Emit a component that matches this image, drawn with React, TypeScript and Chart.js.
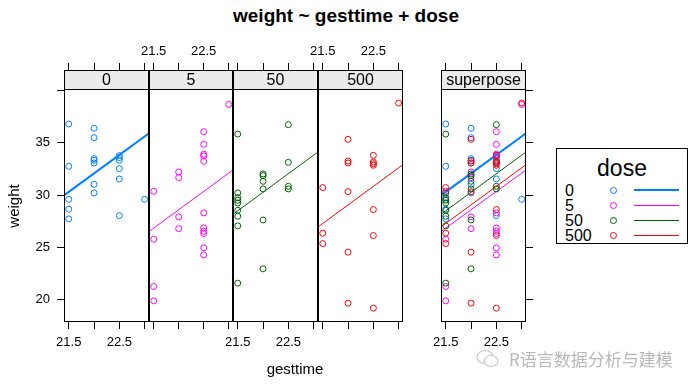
import React, { useEffect, useRef } from 'react';
import { Chart, registerables } from 'chart.js';

Chart.register(...registerables);

// ---------- data ----------
const doseLevels = ['0', '5', '50', '500'];
const doseColors = ['#0080ff', '#ff00ff', '#006400', '#ff0000'];

const gest0 = [21.5, 21.5, 21.5, 21.5, 21.5, 22, 22, 22, 22, 22, 22, 22, 22.5, 22.5, 22.5, 22.5, 22.5, 22.5, 23];
const weight0 = [36.79, 32.75, 29.6, 28.65, 27.73, 36.38, 35.49, 33.48, 33.32, 33.07, 31.03, 30.21, 33.77, 33.58, 33.32, 32.53, 31.54, 28.04, 29.6];

const gest5 = [21.5, 21.5, 21.5, 21.5, 22, 22, 22, 22, 22.5, 22.5, 22.5, 22.5, 22.5, 22.5, 22.5, 22.5, 22.5, 22.5, 22.5, 23];
const weight5 = [30.37, 25.79, 21.27, 19.9, 32.21, 31.67, 27.92, 26.8, 36.06, 34.85, 33.9, 33.74, 33.23, 28.3, 26.87, 26.55, 26.33, 24.96, 24.29, 38.66];

const gest50 = [21.5, 21.5, 21.5, 21.5, 21.5, 21.5, 21.5, 21.5, 21.5, 22, 22, 22, 22, 22, 22, 22.5, 22.5, 22.5, 22.5];
const weight50 = [35.83, 30.21, 29.76, 29.51, 29.25, 28.55, 27.98, 27.06, 21.59, 32.02, 31.86, 31.32, 30.59, 27.63, 22.96, 36.73, 33.13, 30.84, 30.59];

const gest500 = [21.5, 21.5, 21.5, 22, 22, 22, 22, 22, 22, 22.5, 22.5, 22.5, 22.5, 22.5, 22.5, 22.5, 23];
const weight500 = [30.72, 26.36, 25.37, 35.33, 33.26, 33.07, 30.33, 24.55, 19.68, 33.8, 33.16, 33.0, 32.85, 28.62, 26.14, 19.2, 38.79];

const gestByDose = [gest0, gest5, gest50, gest500];
const weightByDose = [weight0, weight5, weight50, weight500];

// fitted (parallel) lines of weight ~ gesttime + dose, at the panel's x limits
const fitAtXMin = [29.98, 26.52, 28.17, 26.96];
const fitAtXMax = [35.9, 32.4, 34.12, 32.91];

const xTicks = [21.5, 22, 22.5, 23];
const xTickLabels = ['21.5', '', '22.5', ''];
const yTicks = [20, 25, 30, 35, 40];
const yTickLabels = ['20', '25', '30', '35', ''];

const X_MIN = 21.406;
const X_MAX = 23.086;
const Y_MIN = 17.88;
const Y_MAX = 41.95;

const stripLabels = ['0', '5', '50', '500', 'superpose'];

// ---------- layout ----------
const FONT = '"Liberation Sans", Arial, Helvetica, sans-serif';
const CANVAS_H = 390;
const AREA_TOP = 70;
const AREA_BOTTOM = 322;
const STRIP_H = 19;
const SIDE = 30;

type PanelCfg = {
  groups: number[];
  strip: string;
  left: number;
  right: number;
  leftAxis: boolean;
  rightAxis: boolean;
  bottomLabels: boolean;
  topLabels: boolean;
};

const panels: PanelCfg[] = [
  { groups: [0], strip: stripLabels[0], left: 64, right: 149, leftAxis: true, rightAxis: false, bottomLabels: true, topLabels: false },
  { groups: [1], strip: stripLabels[1], left: 149, right: 233, leftAxis: false, rightAxis: false, bottomLabels: false, topLabels: true },
  { groups: [2], strip: stripLabels[2], left: 233, right: 318, leftAxis: false, rightAxis: false, bottomLabels: true, topLabels: false },
  { groups: [3], strip: stripLabels[3], left: 318, right: 403, leftAxis: false, rightAxis: false, bottomLabels: false, topLabels: true },
  { groups: [0, 1, 2, 3], strip: stripLabels[4], left: 441, right: 526, leftAxis: false, rightAxis: true, bottomLabels: true, topLabels: false },
];

const panelFrame = {
  id: 'panelFrame',
  afterDraw(chart: any, _args: any, opts: any) {
    const { ctx, chartArea } = chart;
    const { left, right, top, bottom } = chartArea;
    ctx.save();
    ctx.fillStyle = '#ebebeb';
    ctx.fillRect(left, top, right - left, STRIP_H);
    ctx.strokeStyle = '#000';
    ctx.lineWidth = 1;
    ctx.strokeRect(left + 0.5, top + 0.5, right - left - 1, bottom - top - 1);
    ctx.beginPath();
    ctx.moveTo(left, top + STRIP_H + 0.5);
    ctx.lineTo(right, top + STRIP_H + 0.5);
    ctx.stroke();
    ctx.fillStyle = '#000';
    ctx.font = `16px ${FONT}`;
    ctx.textAlign = 'center';
    ctx.textBaseline = 'alphabetic';
    ctx.fillText(opts.label, (left + right) / 2, top + 14.5);
    ctx.restore();
  },
};

function Panel({ cfg }: { cfg: PanelCfg }) {
  const ref = useRef<HTMLCanvasElement>(null);
  const leftSpace = cfg.leftAxis ? cfg.left : SIDE;
  const rightSpace = SIDE;
  const canvasLeft = cfg.left - leftSpace;
  const canvasW = leftSpace + (cfg.right - cfg.left) + rightSpace;
  const showY = cfg.leftAxis || cfg.rightAxis;

  useEffect(() => {
    if (!ref.current) return;
    const datasets: any[] = [];
    // Chart.js draws dataset 0 last (on top); build in reverse drawing order
    const order = [...cfg.groups].reverse();
    for (const g of order) {
      datasets.push({
        type: 'line',
        data: [
          { x: X_MIN, y: fitAtXMin[g] },
          { x: X_MAX, y: fitAtXMax[g] },
        ],
        borderColor: doseColors[g],
        borderWidth: g === 0 ? 2 : 1,
        pointRadius: 0,
        fill: false,
        tension: 0,
      });
      datasets.push({
        type: 'scatter',
        data: gestByDose[g].map((x, i) => ({ x, y: weightByDose[g][i] })),
        pointStyle: 'circle',
        pointRadius: 3,
        pointHoverRadius: 3,
        borderWidth: 1,
        borderColor: doseColors[g],
        backgroundColor: 'rgba(0,0,0,0)',
      });
    }

    const xLabel = (show: boolean) => (v: any) => {
      const i = xTicks.indexOf(Number(v));
      return show && i >= 0 ? xTickLabels[i] : '';
    };

    const chart = new Chart(ref.current, {
      type: 'scatter',
      data: { datasets },
      plugins: [panelFrame as any],
      options: {
        animation: false,
        responsive: false,
        devicePixelRatio: 1,
        events: [],
        layout: {
          padding: {
            left: cfg.leftAxis ? 0 : SIDE,
            right: cfg.rightAxis ? 0 : SIDE,
            top: 0,
            bottom: 0,
          },
        },
        plugins: {
          legend: { display: false },
          tooltip: { enabled: false },
          title: { display: false },
          panelFrame: { label: cfg.strip },
        } as any,
        scales: {
          x: {
            type: 'linear',
            position: 'bottom',
            min: X_MIN,
            max: X_MAX,
            afterBuildTicks: (s: any) => {
              s.ticks = xTicks.map((value) => ({ value }));
            },
            afterFit: (s: any) => {
              s.height = CANVAS_H - AREA_BOTTOM;
            },
            ticks: {
              autoSkip: false,
              maxRotation: 0,
              minRotation: 0,
              padding: 6,
              color: '#000',
              font: { family: FONT, size: 13 },
              callback: xLabel(cfg.bottomLabels),
            },
            grid: { drawOnChartArea: false, drawTicks: true, tickLength: 7, color: '#000', lineWidth: 1 },
            border: { display: false },
          },
          xTop: {
            type: 'linear',
            position: 'top',
            min: X_MIN,
            max: X_MAX,
            afterBuildTicks: (s: any) => {
              s.ticks = xTicks.map((value) => ({ value }));
            },
            afterFit: (s: any) => {
              s.height = AREA_TOP;
            },
            ticks: {
              autoSkip: false,
              maxRotation: 0,
              minRotation: 0,
              padding: 4,
              color: '#000',
              font: { family: FONT, size: 13 },
              callback: xLabel(cfg.topLabels),
            },
            grid: { drawOnChartArea: false, drawTicks: true, tickLength: 7, color: '#000', lineWidth: 1 },
            border: { display: false },
          },
          y: {
            type: 'linear',
            display: showY,
            position: cfg.rightAxis ? 'right' : 'left',
            min: Y_MIN,
            max: Y_MAX,
            afterBuildTicks: (s: any) => {
              s.ticks = yTicks.map((value) => ({ value }));
            },
            afterFit: (s: any) => {
              s.width = !showY ? 0 : cfg.leftAxis ? cfg.left : SIDE;
            },
            ticks: {
              autoSkip: false,
              padding: 7,
              color: '#000',
              font: { family: FONT, size: 13 },
              callback: (v: any) => {
                const i = yTicks.indexOf(Number(v));
                return cfg.leftAxis && i >= 0 ? yTickLabels[i] : '';
              },
            },
            grid: { drawOnChartArea: false, drawTicks: true, tickLength: 7, color: '#000', lineWidth: 1 },
            border: { display: false },
          },
        },
      } as any,
    });
    return () => chart.destroy();
  }, []);

  return (
    <canvas
      ref={ref}
      width={canvasW}
      height={CANVAS_H}
      style={{ position: 'absolute', left: canvasLeft, top: 0, width: canvasW, height: CANVAS_H }}
    />
  );
}

export default function App() {
  return (
    <div
      style={{
        position: 'absolute',
        left: 0,
        top: 0,
        width: 696,
        height: 390,
        background: '#fff',
        overflow: 'hidden',
        fontFamily: FONT,
        color: '#000',
      }}
    >
      <div
        style={{
          position: 'absolute',
          left: 196,
          top: 6,
          width: 300,
          textAlign: 'center',
          fontSize: 19,
          lineHeight: '19px',
          fontWeight: 'bold',
          whiteSpace: 'nowrap',
        }}
      >
        weight ~ gesttime + dose
      </div>

      {panels.map((p, i) => (
        <Panel key={i} cfg={p} />
      ))}

      <div
        style={{
          position: 'absolute',
          left: 13.5 - 50,
          top: 206 - 9,
          width: 100,
          height: 18,
          lineHeight: '18px',
          fontSize: 15,
          textAlign: 'center',
          transform: 'rotate(-90deg)',
          whiteSpace: 'nowrap',
        }}
      >
        weight
      </div>
      <div
        style={{
          position: 'absolute',
          left: 245,
          top: 361,
          width: 100,
          fontSize: 15,
          lineHeight: '15px',
          textAlign: 'center',
          whiteSpace: 'nowrap',
        }}
      >
        gesttime
      </div>

      {/* legend */}
      <div
        style={{
          position: 'absolute',
          left: 556,
          top: 148,
          width: 132,
          height: 96,
          border: '1px solid #000',
          boxSizing: 'border-box',
        }}
      />
      <div
        style={{
          position: 'absolute',
          left: 572,
          top: 157,
          width: 100,
          textAlign: 'center',
          fontSize: 23,
          lineHeight: '23px',
        }}
      >
        dose
      </div>
      {doseLevels.map((lev, i) => (
        <React.Fragment key={lev}>
          <div
            style={{
              position: 'absolute',
              left: 565,
              top: 183 + 15 * i,
              fontSize: 16,
              lineHeight: '16px',
            }}
          >
            {lev}
          </div>
          <div
            style={{
              position: 'absolute',
              left: 610,
              top: 187 + 15 * i,
              width: 7,
              height: 7,
              border: `1px solid ${doseColors[i]}`,
              borderRadius: '50%',
              boxSizing: 'border-box',
            }}
          />
          <div
            style={{
              position: 'absolute',
              left: 634,
              top: 190 + 15 * i - (i === 0 ? 1 : 0),
              width: 45,
              height: i === 0 ? 2 : 1,
              background: doseColors[i],
            }}
          />
        </React.Fragment>
      ))}

      {/* watermark */}
      <svg
        style={{ position: 'absolute', left: 476, top: 349 }}
        width={24}
        height={20}
        viewBox="0 0 24 20"
      >
        <ellipse cx="9" cy="8" rx="8" ry="6.5" fill="none" stroke="#c4c4c4" strokeWidth="1.2" />
        <ellipse cx="15" cy="12" rx="7" ry="5.5" fill="#fff" stroke="#c4c4c4" strokeWidth="1.2" />
      </svg>
      <div
        style={{
          position: 'absolute',
          left: 509,
          top: 348,
          fontSize: 17,
          lineHeight: '22px',
          color: '#b8b8b8',
          fontFamily: '"Noto Sans CJK SC", "Noto Sans", sans-serif',
          whiteSpace: 'nowrap',
        }}
      >
        R语言数据分析与建模
      </div>
    </div>
  );
}
